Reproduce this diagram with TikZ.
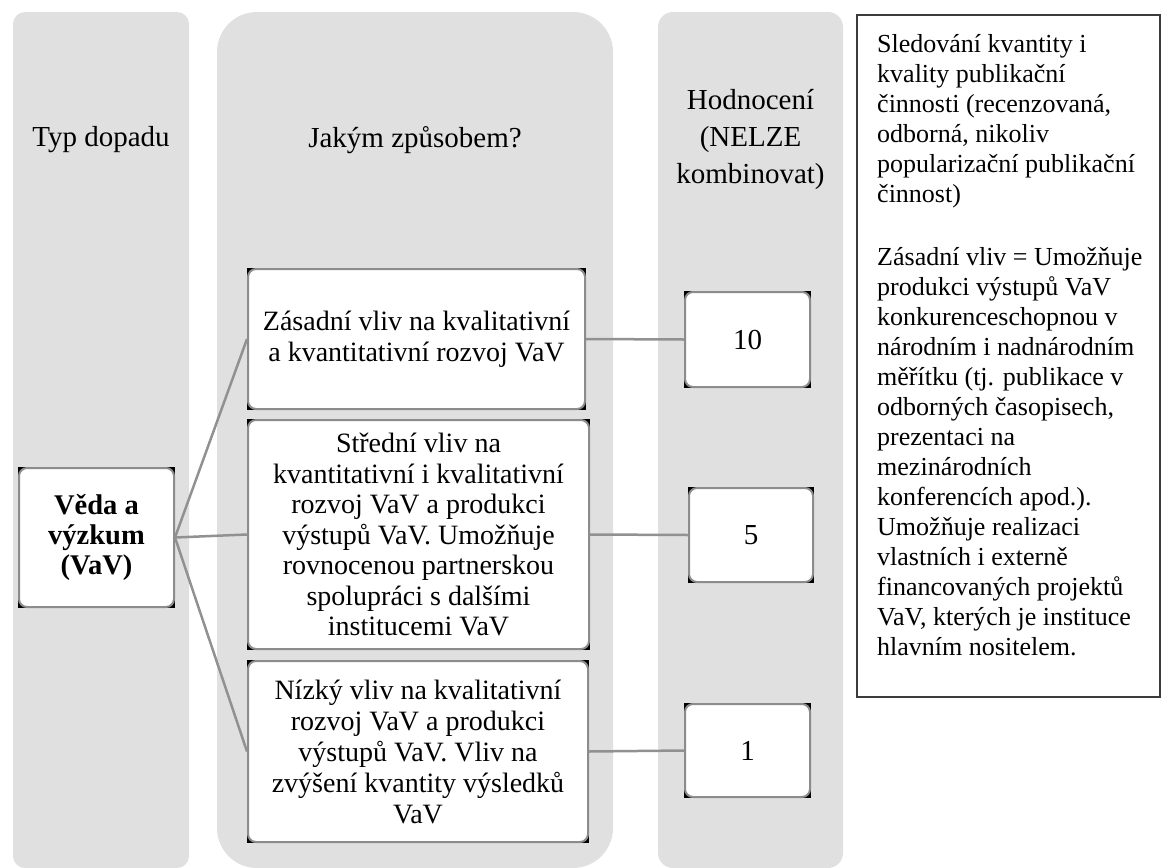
\documentclass[tikz,border=0pt]{standalone}
\usepackage{fontspec}
\setmainfont{Liberation Serif}
\pgfdeclarelayer{bg}
\pgfdeclarelayer{mid}
\pgfsetlayers{bg,mid,main}
\definecolor{colfill}{RGB}{224,224,224}
\definecolor{boxline}{RGB}{140,140,140}
\definecolor{conncol}{RGB}{145,145,145}
\definecolor{noteline}{RGB}{60,60,60}
\begin{document}
\begin{tikzpicture}[x=1pt,y=-1pt,
  colbg/.style={fill=colfill},
  wbox/.style={draw=boxline, line width=2pt, fill=white, rounded corners=8pt,
    inner sep=0pt, align=center, font=\fontsize{28}{30.5}\selectfont},
  connector/.style={draw=conncol, line width=2.5pt},
  head/.style={align=center, font=\fontsize{29}{37}\selectfont},
  notebox/.style={draw=noteline, line width=1.3pt, fill=white, inner sep=0pt}]
\useasboundingbox (0,0) rectangle (1163,868);

% columns
\begin{pgfonlayer}{bg}
  \fill[colbg, rounded corners=12pt] (13,12) rectangle (189,868);
  \fill[colbg, rounded corners=40pt] (217,12) rectangle (613,868);
  \fill[colbg, rounded corners=15pt] (658,12) rectangle (843,868);
\end{pgfonlayer}

% column headers
\node[head] (h1) at (101,140) {Typ dopadu};
\node[head] (h2) at (415,140) {Jakým způsobem?};
\node[head] (h3) at (750.5,140) {Hodnocení\\(NELZE\\kombinovat)};

% boxes
\node[wbox, minimum width=155pt, minimum height=139pt,
  font=\bfseries\fontsize{28.5}{30}\selectfont] (veda) at (96.5,537.5)
  {Věda a\\výzkum\\(VaV)};
\node[wbox, minimum width=337pt, minimum height=140pt] (zas) at (416.5,339)
  {Zásadní vliv na kvalitativní\\a kvantitativní rozvoj VaV};
\node[wbox, minimum width=341pt, minimum height=229pt] (str) at (418.5,534.5)
  {Střední vliv na\\kvantitativní i kvalitativní\\rozvoj VaV a produkci\\výstupů VaV. Umožňuje\\rovnocenou partnerskou\\spolupráci s dalšími\\institucemi VaV};
\node[wbox, minimum width=340pt, minimum height=181pt,
  font=\fontsize{28}{31}\selectfont] (niz) at (418,751.5)
  {Nízký vliv na kvalitativní\\rozvoj VaV a produkci\\výstupů VaV. Vliv na\\zvýšení kvantity výsledků\\VaV};
\node[wbox, minimum width=125pt, minimum height=95pt, font=\fontsize{29}{31}\selectfont] (s10) at (747.5,339.5) {10};
\node[wbox, minimum width=124pt, minimum height=94pt, font=\fontsize{29}{31}\selectfont] (s5) at (751,535) {5};
\node[wbox, minimum width=125pt, minimum height=93pt, font=\fontsize{29}{31}\selectfont] (s1) at (747.5,750.5) {1};

% black corner artefacts behind the rounded boxes
\begin{pgfonlayer}{mid}
  \foreach \b in {veda,zas,str,niz,s10,s5,s1}
    \fill[black] (\b.south west) rectangle (\b.north east);
\end{pgfonlayer}

% connectors
\draw[connector] (veda.east) -- (zas.west);
\draw[connector] (veda.east) -- (str.west);
\draw[connector] (veda.east) -- (niz.west);
\draw[connector] (zas.east) -- (s10.west);
\draw[connector] (str.east) -- (s5.west);
\draw[connector] (niz.east) -- (s1.west);

% note box
\node[notebox, minimum width=303pt, minimum height=682pt] (note) at (1008.5,356) {};
\node[anchor=north west, inner sep=0pt, align=left,
  font=\fontsize{26}{30}\selectfont] (notetext) at (877,34)
  {Sledování kvantity i\\kvality publikační\\činnosti (recenzovaná,\\odborná, nikoliv\\popularizační publikační\\činnost)\\[33pt]Zásadní vliv = Umožňuje\\produkci výstupů VaV\\konkurenceschopnou v\\národním i nadnárodním\\měřítku (tj. publikace v\\odborných časopisech,\\prezentaci na\\mezinárodních\\konferencích apod.).\\Umožňuje realizaci\\vlastních i externě\\financovaných projektů\\VaV, kterých je instituce\\hlavním nositelem.};
\end{tikzpicture}
\end{document}
